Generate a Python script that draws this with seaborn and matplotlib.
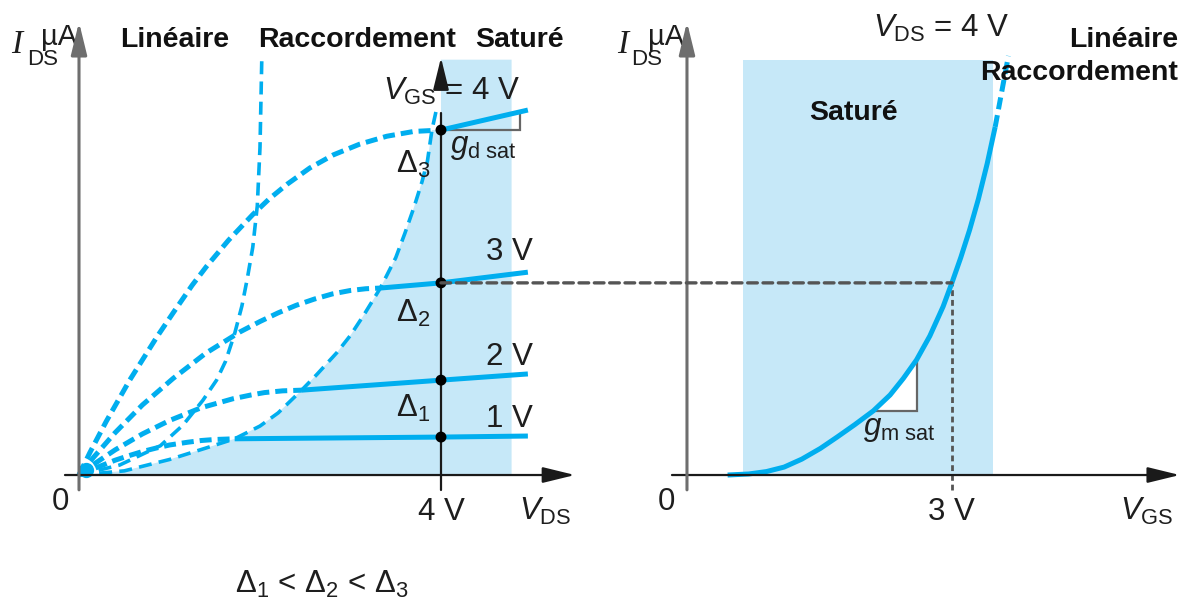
import numpy as np
import matplotlib
matplotlib.use("Agg")
import matplotlib.pyplot as plt
import seaborn as sns
from matplotlib.patches import ConnectionPatch

# ---------------- data ----------------
# Output characteristics I_DS(V_DS) -- ohmic (dashed) branches, V in volts, I in uA
lin4_v = [0, 0.12, 0.30, 0.56, 0.86, 1.04, 1.25, 1.41, 1.65, 1.92, 2.10, 2.30, 2.55,
          2.81, 3.10, 3.40, 3.70, 4.00]
lin4_i = [0, 6.5, 15.5, 27.5, 40.0, 47.0, 55.0, 60.5, 68.0, 75.5, 80.0, 84.3, 89.0,
          92.8, 95.9, 98.2, 99.6, 100.0]
lin3_v = [0, 0.15, 0.40, 0.70, 1.04, 1.40, 1.78, 2.00, 2.20, 2.40, 2.60, 2.80, 3.00,
          3.17, 3.33]
lin3_i = [0, 4.8, 12.3, 20.3, 28.0, 35.3, 41.5, 44.5, 47.0, 49.2, 51.0, 52.5, 53.5,
          54.0, 54.2]
lin2_v = [0, 0.15, 0.40, 0.70, 1.00, 1.35, 1.70, 1.90, 2.05, 2.25, 2.46]
lin2_i = [0, 2.9, 7.3, 11.9, 15.8, 19.5, 22.1, 23.2, 23.9, 24.4, 24.6]
lin1_v = [0, 0.15, 0.40, 0.55, 0.70, 0.85, 1.00, 1.20, 1.35, 1.50, 1.72]
lin1_i = [0, 1.7, 4.3, 5.6, 6.8, 7.8, 8.7, 9.5, 10.0, 10.3, 10.5]

# saturated (solid) branches: knee, V_DS = 4 V, end
sat4_v = [4.00, 4.96]
sat4_i = [100.0, 105.8]
sat3_v = [3.33, 4.00, 4.96]
sat3_i = [54.2, 55.7, 58.8]
sat2_v = [2.46, 4.00, 4.96]
sat2_i = [24.6, 27.5, 29.3]
sat1_v = [1.72, 4.00, 4.96]
sat1_i = [10.5, 11.0, 11.3]

# operating points at V_DS = 4 V
op_vds = [4.0, 4.0, 4.0, 4.0]
op_ids = [11.0, 27.5, 55.7, 100.0]
vgs_tags = ["1 V", "2 V", "3 V"]

# boundary ohmic / saturated (knee locus)
knee_v = [0, 0.5, 1.0, 1.4, 1.72, 2.0, 2.2, 2.46, 2.63, 2.85, 3.0, 3.15, 3.33, 3.5,
          3.6, 3.7, 3.79, 3.85, 3.9, 3.95]
knee_i = [0, 1.2, 4.5, 7.8, 10.5, 14.2, 18.0, 24.6, 29.2, 35.5, 40.5, 46.5, 54.2, 63.0,
          70.0, 77.5, 85.0, 91.0, 100.0, 106.0]

# boundary linear / transition region
trans_v = [0, 0.45, 0.90, 1.15, 1.37, 1.52, 1.62, 1.72, 1.80, 1.86, 1.92, 1.97, 2.00, 2.02]
trans_i = [0, 2.9, 8.5, 14.5, 21.7, 27.5, 33.0, 41.0, 49.0, 57.0, 66.0, 78.0, 95.0, 120.9]

# saturated band on the output plane
sat_band_vds = [4.0, 4.78]
band_top = 120.4

# tangent (g_d sat) construction on the V_GS = 4 V branch
gd_v = [4.0, 4.87, 4.87]
gd_i = [100.0, 100.0, 105.3]

# Transfer characteristic I_DS(V_GS) at V_DS = 4 V
tr_v = [0.46, 0.70, 0.90, 1.10, 1.30, 1.51, 1.70, 1.90, 2.11, 2.30, 2.45, 2.60, 2.75,
        2.90, 3.00, 3.10, 3.20, 3.30, 3.40, 3.49]
tr_i = [0, 0.3, 1.0, 2.3, 4.6, 7.7, 11.0, 14.6, 18.6, 23.2, 28.0, 33.4, 40.3,
        48.8, 55.7, 63.0, 71.0, 80.0, 90.3, 100.9]
tr_ext_v = [3.49, 3.56, 3.64]
tr_ext_i = [100.9, 110.5, 121.5]
sat_band_vgs = [0.63, 3.47]
op_vgs = 3.0
op_ids_tr = 55.7

# tangent (g_m sat) construction on the transfer curve
gm_v = [2.11, 2.30, 2.45, 2.60, 2.60]
gm_i = [18.6, 23.2, 28.0, 33.4, 18.6]

# ---------------- style ----------------
sns.set_theme(style="white")
plt.rcParams["font.family"] = ["Liberation Sans", "DejaVu Sans"]
plt.rcParams["mathtext.fontset"] = "custom"
plt.rcParams["mathtext.rm"] = "Liberation Sans"
plt.rcParams["mathtext.it"] = "Liberation Sans:italic"
plt.rcParams["mathtext.bf"] = "Liberation Sans:bold"

BLUE = "#00aeef"
SHADE = "#c6e8f8"
AXIS_K = "#1a1a1a"
AXIS_G = "#6e6e6e"
GREY = "#666666"
TXT = "#1e1e1e"

fig = plt.figure(figsize=(11.92, 6.03), dpi=100)
ax1 = fig.add_axes([0, 0, 600 / 1192, 1])
ax2 = fig.add_axes([600 / 1192, 0, 592 / 1192, 1])
ax1.set_xlim(-0.873, 5.757)
ax2.set_xlim(-0.985, 5.719)
for ax in (ax1, ax2):
    ax.set_ylim(-37.1, 137.7)
    ax.axis("off")


def curve(ax, v, i, lw, ls="-", z=3, color=BLUE):
    sns.lineplot(x=v, y=i, ax=ax, color=color, linewidth=lw, linestyle=ls,
                 sort=False, estimator=None, legend=False, zorder=z,
                 solid_capstyle="butt", dash_capstyle="butt", solid_joinstyle="round")


def arrow(ax, start, end, color, lw, z=4):
    ax.annotate("", xy=end, xytext=start,
                arrowprops=dict(arrowstyle="-|>,head_length=0.9,head_width=0.22",
                                mutation_scale=22, lw=lw, color=color,
                                shrinkA=0, shrinkB=0),
                zorder=z)


FS = 22.5
BOLD = 20.5

# ---------------- left: output characteristics ----------------
# saturated region shading (right of the knee locus)
cut = knee_i.index(100.0)
poly_v = knee_v[:cut + 1] + [sat_band_vds[0], sat_band_vds[0], sat_band_vds[1], sat_band_vds[1]]
poly_i = knee_i[:cut + 1] + [100.0, band_top, band_top, 0]
ax1.fill(poly_v, poly_i, color=SHADE, lw=0, zorder=0)

# axes
arrow(ax1, (-0.155, 0), (5.48, 0), AXIS_K, 1.6)
arrow(ax1, (0, -4.3), (0, 131.3), AXIS_G, 2.2)
ax1.plot([4, 4], [-4.3, 105], color=AXIS_K, lw=1.6, zorder=4)
arrow(ax1, (4, 114.0), (4, 121.0), AXIS_K, 1.6)

# region boundaries
curve(ax1, trans_v, trans_i, 2.6, (0, (3.6, 2.0)), z=2)
curve(ax1, knee_v, knee_i, 2.6, (0, (3.6, 2.0)), z=2)

# dashed ohmic branches
for v, i in [(lin4_v, lin4_i), (lin3_v, lin3_i), (lin2_v, lin2_i), (lin1_v, lin1_i)]:
    curve(ax1, v, i, 3.6, (0, (2.4, 1.2)), z=3)
# solid saturated branches
for v, i in [(sat4_v, sat4_i), (sat3_v, sat3_i), (sat2_v, sat2_i), (sat1_v, sat1_i)]:
    curve(ax1, v, i, 3.6, "-", z=3)

ax1.plot([0.08], [1.4], marker="o", ms=11, color=BLUE, mec="none", zorder=3)
sns.scatterplot(x=op_vds, y=op_ids, ax=ax1, color="black", s=62, edgecolor="none",
                zorder=6, legend=False)

# g_d sat construction
ax1.plot(gd_v, gd_i, color=GREY, lw=1.6, zorder=2.5, solid_joinstyle="miter")

# texts
ax1.text(-0.685, 122.3, "I", family="Liberation Serif", style="italic", fontsize=24,
         ha="center", va="baseline", color=TXT)
ax1.text(-0.57, 118.8, "DS", fontsize=16, ha="left", va="baseline", color=TXT)
ax1.text(-0.42, 124.6, "µA", fontsize=21, ha="left", va="baseline", color=TXT)
ax1.text(1.06, 126.1, "Linéaire", fontsize=BOLD, fontweight="bold", ha="center", va="center", color="#111")
ax1.text(3.07, 126.1, "Raccordement", fontsize=BOLD, fontweight="bold", ha="center", va="center", color="#111")
ax1.text(4.87, 126.1, "Saturé", fontsize=BOLD, fontweight="bold", ha="center", va="center", color="#111")
ax1.text(3.36, 108.7, r"$V_{\mathrm{GS}}$ = 4 V", fontsize=FS, ha="left", va="baseline", color=TXT)
for tag, y in zip(vgs_tags, [13.9, 31.9, 62.3]):
    ax1.text(4.76, y, tag, fontsize=FS, ha="center", va="baseline", color=TXT)
for k, y in [(3, 87.5), (2, 44.3), (1, 16.8)]:
    ax1.text(3.50, y, "Δ$_{%d}$" % k, fontsize=FS, ha="left", va="baseline", color=TXT)
ax1.text(4.10, 93.3, r"$g_{\mathrm{d\ sat}}$", fontsize=FS, ha="left", va="baseline", color=TXT)
ax1.text(-0.21, -10.1, "0", fontsize=FS, ha="center", va="baseline", color=TXT)
ax1.text(4.01, -13.0, "4 V", fontsize=FS, ha="center", va="baseline", color=TXT)
ax1.text(4.86, -13.0, r"$V_{\mathrm{DS}}$", fontsize=FS, ha="left", va="baseline", color=TXT)
ax1.text(2.69, -34.2, "Δ$_1$ < Δ$_2$ < Δ$_3$", fontsize=FS, ha="center", va="baseline", color=TXT)

# ---------------- right: transfer characteristic ----------------
ax2.fill_between(sat_band_vgs, 0, band_top, color=SHADE, lw=0, zorder=0)
arrow(ax2, (-0.17, 0), (5.58, 0), AXIS_K, 1.6)
arrow(ax2, (0, -4.3), (0, 131.3), AXIS_G, 2.2)

ax2.fill(gm_v, gm_i, color="white", lw=0, zorder=1)
ax2.plot(gm_v[3:] + [gm_v[0]], gm_i[3:] + [gm_i[0]], color=GREY, lw=1.6, zorder=2,
         solid_joinstyle="miter")

curve(ax2, tr_v, tr_i, 3.6, "-", z=3)
curve(ax2, tr_ext_v, tr_ext_i, 3.6, (0, (2.4, 1.2)), z=3)

ax2.plot([op_vgs, op_vgs], [-4.3, op_ids_tr], color="#555", lw=2.0,
         linestyle=(0, (2.1, 1.4)), zorder=2)
link = ConnectionPatch(xyA=(4.0, op_ids_tr), coordsA=ax1.transData,
                       xyB=(op_vgs, op_ids_tr), coordsB=ax2.transData,
                       color="#555", lw=2.4, linestyle=(0, (2.9, 1.7)), zorder=2)
fig.add_artist(link)

ax2.text(-0.725, 122.3, "I", family="Liberation Serif", style="italic", fontsize=24,
         ha="center", va="baseline", color=TXT)
ax2.text(-0.63, 118.8, "DS", fontsize=16, ha="left", va="baseline", color=TXT)
ax2.text(-0.44, 124.6, "µA", fontsize=21, ha="left", va="baseline", color=TXT)
ax2.text(1.89, 104.9, "Saturé", fontsize=BOLD, fontweight="bold", ha="center", va="center", color="#111")
ax2.text(2.11, 126.9, r"$V_{\mathrm{DS}}$ = 4 V", fontsize=FS, ha="left", va="baseline", color=TXT)
ax2.text(5.56, 126.1, "Linéaire", fontsize=BOLD, fontweight="bold", ha="right", va="center", color="#111")
ax2.text(5.56, 116.5, "Raccordement", fontsize=BOLD, fontweight="bold", ha="right", va="center", color="#111")
ax2.text(-0.23, -10.1, "0", fontsize=FS, ha="center", va="baseline", color=TXT)
ax2.text(3.0, -13.0, "3 V", fontsize=FS, ha="center", va="baseline", color=TXT)
ax2.text(4.90, -13.0, r"$V_{\mathrm{GS}}$", fontsize=FS, ha="left", va="baseline", color=TXT)
ax2.text(1.99, 11.6, r"$g_{\mathrm{m\ sat}}$", fontsize=FS, ha="left", va="baseline", color=TXT)

fig.savefig("out.png", dpi=100)
